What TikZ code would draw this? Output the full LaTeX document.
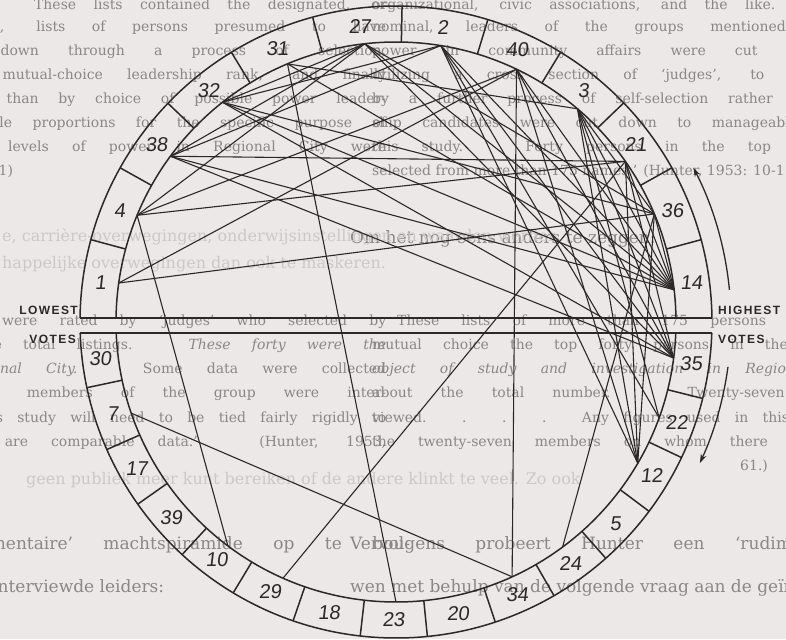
\documentclass[tikz,border=0pt]{standalone}
\usepackage{fontspec}
\usepackage{graphicx}
\setmainfont{DejaVu Serif}
\newfontfamily\lblfont[FakeSlant=0.12]{Liberation Sans}
\newfontfamily\capfont[LetterSpace=12]{Liberation Sans}
\usetikzlibrary{arrows.meta}
\definecolor{paper}{RGB}{236,232,232}
\definecolor{ink}{RGB}{45,40,40}
\definecolor{printc}{RGB}{140,134,134}
\definecolor{ghost}{RGB}{205,200,200}
\tikzset{
  ringline/.style={draw=ink,line width=1.5pt},
  chord/.style={draw=ink,line width=1.1pt},
  lbl/.style={text=ink,font=\lblfont\fontsize{20}{20}\selectfont,inner sep=0pt},
  sidelbl/.style={text=ink,font=\capfont\bfseries\fontsize{12}{12}\selectfont,inner sep=0pt},
  quotetxt/.style={text=printc,font=\fontsize{14}{16}\selectfont,inner sep=0pt},
  bodytxt/.style={text=printc,font=\fontsize{17}{20}\selectfont,inner sep=0pt},
  ghosttxt/.style={text=ghost,font=\fontsize{16}{18}\selectfont,inner sep=0pt},
}
\newcommand\wraprow[6]{% style, name, Y, X, width, text
  \node[#1,anchor=base west] (#2a) at (#4,#3) {\makebox[#5pt][s]{#6}};
  \node[#1,anchor=base west] (#2b) at ({#4-786},#3) {\makebox[#5pt][s]{#6}};}
\newcommand\wraprowN[5]{% style, name, Y, X, text (natural width)
  \node[#1,anchor=base west] (#2a) at (#4,#3) {#5};
  \node[#1,anchor=base west] (#2b) at ({#4-786},#3) {#5};}
\begin{document}
\begin{tikzpicture}[x=1pt,y=1pt]
\useasboundingbox (-396,-317) rectangle (390,322);
\fill[paper] (-396,-317) rectangle (390,322);
\begin{scope}
\clip (-396,-317) rectangle (390,322);
% ---------- background page text (scan, shifted by half a page) ----------
\wraprow{quotetxt}{r0}{312}{-24}{800}{organizational, civic associations, and the like. These lists contained the designated, or}
\wraprow{quotetxt}{r1}{290}{-24}{800}{nominal, leaders of the groups mentioned, lists of persons presumed to have}
\wraprow{quotetxt}{r2}{266}{-24}{800}{power in community affairs were cut down through a process of selection,}
\wraprow{quotetxt}{r3}{242}{-24}{800}{utilizing a cross section of `judges', to mutual-choice leadership rank, and finally}
\wraprow{quotetxt}{r4}{218}{-24}{800}{by a further process of self-selection rather than by choice of possible power leader-}
\wraprow{quotetxt}{r5}{194}{-24}{800}{ship candidates were cut down to manageable proportions for the specific purpose of}
\wraprow{quotetxt}{r6}{170}{-24}{800}{this study. Forty persons in the top levels of power in Regional City were}
\wraprowN{quotetxt}{r7}{146}{-24}{selected from more than 175 names.' (Hunter, 1953: 10-11)}
\wraprowN{bodytxt}{r8}{78}{-46}{Om het nog eens anders te zeggen:}
\node[ghosttxt,anchor=base west] (g1) at (-394,80) {e, carrière-overwegingen, onderwijsinstellingen en waarden werden};
\node[ghosttxt,anchor=base west] (g2) at (-394,53) {happelijke overwegingen dan ook te maskeren.};
\wraprow{quotetxt}{q1}{-4}{1}{775}{These lists of more than 175 persons were rated by `judges' who selected by}
\wraprow{quotetxt}{q2}{-28}{-24}{800}{mutual choice the top forty persons in the total listings. \textit{These forty were the}}
\wraprow{quotetxt}{q3}{-52}{-24}{800}{\textit{object of study and investigation in Regional City.} Some data were collected}
\wraprow{quotetxt}{q4}{-76}{-24}{800}{about the total number. Twenty-seven members of the group were inter-}
\wraprow{quotetxt}{q5}{-100}{-24}{800}{viewed. . . . Any figures used in this study will need to be tied fairly rigidly to}
\wraprow{quotetxt}{q6}{-124}{-24}{800}{the twenty-seven members on whom there are comparable data.' (Hunter, 1953,}
\node[quotetxt,anchor=base west] (q7) at (344,-148) {61.)};
\node[ghosttxt,anchor=base west] (g3) at (-370,-162) {geen publiek meer kunt bereiken of de andere klinkt te veel. Zo ook};
\wraprow{bodytxt}{d1}{-227}{-46}{846}{Vervolgens probeert Hunter een `rudimentaire' machtspiramide op te bou-}
\wraprowN{bodytxt}{d2}{-270}{-46}{wen met behulp van de volgende vraag aan de geïnterviewde leiders:}
\end{scope}
% ---------- ring ----------
\draw[ringline] (0.73:316) arc[start angle=0.73,end angle=179.27,radius=316];
\draw[ringline] (-1.99:316) arc[start angle=-1.99,end angle=-178.01,radius=316];
\draw[ringline] (0.82:280) arc[start angle=0.82,end angle=179.18,radius=280];
\draw[ringline] (-2.25:280) arc[start angle=-2.25,end angle=-177.75,radius=280];
\coordinate (bandTL) at (-316,4);
\coordinate (bandTR) at (316,4);
\coordinate (bandBL) at (-316,-11);
\coordinate (bandBR) at (316,-11);
\draw[ringline] (bandTL) -- (bandTR);
\draw[ringline] (bandBL) -- (bandBR);
\foreach \a in {15.1,29.2,43.9,58.6,73.1,88.9,105.3,121.4,136.2,150.8,164.9,-14,-25.4,-36.8,-48.4,-60,-71.7,-84.3,-96.5,-109,-121,-132.6,-144.8,-156.2,-168}
  \draw[ringline] (\a:280) -- (\a:316);
% ---------- labels ----------
\foreach \n/\a in {27/97,2/81,40/66,3/51,21/36.5,36/22,14/7.5,35/-8,22/-19.7,12/-31,5/-42.6,24/-54.2,34/-66,20/-78,23/-90.5,18/-103,29/-115,10/-127,39/-139,17/-150.5,7/-162,30/-173,1/172.5,4/158,38/143.5,32/129,31/113.5}
  \node[lbl] (l\n) at (\a:298) {\n};
\node[sidelbl,anchor=base east] (lowa) at (-318,7) {LOWEST};
\node[sidelbl,anchor=north east] (lowb) at (-320,-13) {VOTES};
\node[sidelbl,anchor=base west] (higha) at (322,7) {HIGHEST};
\node[sidelbl,anchor=north west] (highb) at (322,-13) {VOTES};
% ---------- arrows ----------
\draw[ringline,line width=1.3pt,-{Stealth[length=9pt,width=6pt]}] (5.5:335) arc[start angle=5.5,end angle=27.4,radius=335];
\draw[ringline,line width=1.3pt,-{Stealth[length=9pt,width=6pt]}] (-7.7:335) arc[start angle=-7.7,end angle=-24.9,radius=335];
% ---------- node points ----------
\foreach \n/\a in {27/96.4,2/80.8,40/64.5,3/49.6,21/35,36/22.7,14/6.6,35/-7.4,22/-20,12/-30.3,5/-42.6,24/-53.5,34/-65.5,20/-78,23/-90,18/-103,29/-113.8,10/-126.9,39/-139,17/-150.5,7/-161,30/-173,1/172,4/157.6,38/143.7,32/128.3,31/112.8}
  \coordinate (n\n) at (\a:280);
% ---------- chords ----------
\foreach \u/\v in {38/21,1/36,1/40,38/14,40/34,7/34,31/23,4/10,29/21,
  27/32,27/38,27/4,27/14,27/35,27/36,
  2/32,2/38,2/14,2/35,2/22,2/12,
  40/14,40/35,40/12,4/40,
  3/14,3/35,3/12,3/22,3/36,
  21/14,21/35,21/12,
  36/14,36/12,32/36,31/3,31/14,32/14,32/35,38/35,4/21,24/36}
  \draw[chord] (n\u) -- (n\v);
\end{tikzpicture}
\end{document}
